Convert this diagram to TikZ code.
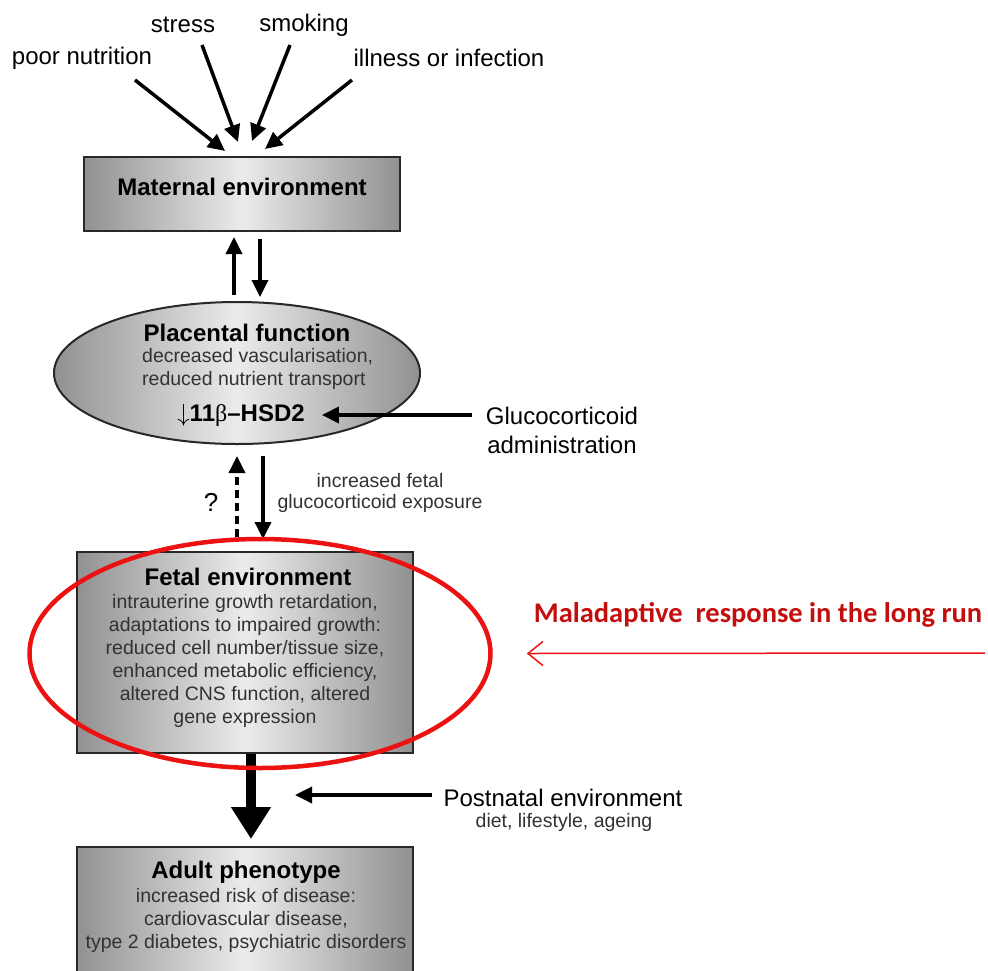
\documentclass[tikz,border=0pt]{standalone}
\usepackage{fontspec}
\setmainfont{Liberation Sans}
\newfontfamily\calfont{Carlito}
\newfontfamily\greekfont{Liberation Serif}
\usetikzlibrary{positioning,arrows.meta,shapes.geometric}
\definecolor{EdgeGray}{RGB}{40,40,40}
\definecolor{TextGray}{RGB}{50,50,50}
\definecolor{DarkFill}{RGB}{145,145,145}
\definecolor{LiteFill}{RGB}{235,235,235}
\definecolor{RingRed}{RGB}{236,18,18}
\definecolor{MalRed}{RGB}{196,14,14}

\begin{document}
\begin{tikzpicture}[x=1pt,y=-1pt,
box/.style={draw=EdgeGray, line width=2pt, left color=DarkFill, right color=DarkFill,
middle color=LiteFill, minimum width=336pt, inner sep=0pt},
head/.style={font=\fontsize{24}{28}\selectfont\bfseries, inner sep=1pt},
sub/.style={font=\fontsize{19.5}{23}\selectfont, text=TextGray, align=center, inner sep=1pt},
lab/.style={font=\fontsize{24}{29}\selectfont, align=center, inner sep=2pt},
line/.style={draw=black, line width=3.5pt, -{Triangle[length=17pt,width=16pt]}},
ring/.style={draw=RingRed, line width=4.5pt, ellipse, inner sep=0pt},
redline/.style={draw=RingRed, line width=1.5pt, -{Straight Barb[length=15pt,width=24pt]}}]
\clip (0,0) rectangle (988,970);
\node[lab] (pn) at (82,58) {poor nutrition};
\node[lab] (st) at (183,25) {stress};
\node[lab] (sm) at (304,25) {smoking};
\node[lab] (ill) at (449,58) {illness or infection};
\coordinate (pnT) at (135,80);
\coordinate (stT) at (202,45);
\coordinate (smT) at (290,45);
\coordinate (illT) at (352,80);
\node[box, minimum width=316pt, minimum height=74pt] (mat) at (242,194) {};
\node[head] (matT) at (242,187) {Maternal environment};
\draw[line] (pnT) -- ([xshift=-17pt,yshift=5pt]mat.north);
\draw[line] (stT) -- ([xshift=-4pt,yshift=14pt]mat.north);
\draw[line] (smT) -- ([xshift=10pt,yshift=15pt]mat.north);
\draw[line] (illT) -- ([xshift=23pt,yshift=7pt]mat.north);
\node[box, ellipse, minimum width=366pt, minimum height=142pt] (plac) at (237,373) {};
\node[head] (placT) at (247,333) {Placental function};
\node[sub, align=left, anchor=west] (placS) at (141,369) {decreased vascularisation,\\reduced nutrient transport};
\node[head] (hsd) at (241,415) {$\downarrow$11{\greekfont\mdseries β}--HSD2};
\node[lab] (gluco) at (562,430) {Glucocorticoid\\administration};
\draw[line, shorten <=12pt, shorten >=16pt] (gluco.west |- hsd) -- (hsd.east);
\draw[line, shorten <=6pt, shorten >=5pt] ([xshift=-8pt]mat.south |- plac.north) -- ([xshift=-8pt]mat.south);
\draw[line, shorten <=7pt, shorten >=4pt] ([xshift=18pt]mat.south) -- ([xshift=18pt]mat.south |- plac.north);
\node[box, minimum height=201pt] (fet) at (245,652.5) {};
\node[head] (fetT) at (248,577) {Fetal environment};
\node[sub] (fetS) at (245,661) {intrauterine growth retardation,\\adaptations to impaired growth:\\reduced cell number/tissue size,\\enhanced metabolic efficiency,\\altered CNS function, altered\\gene expression};
\draw[line, dashed, dash pattern=on 8pt off 5pt, shorten <=14pt, shorten >=11pt] ([xshift=-8pt]fet.north) -- ([xshift=-8pt]fet.north |- plac.south);
\draw[line, shorten <=11pt, shorten >=12pt] ([xshift=18pt]fet.north |- plac.south) -- ([xshift=18pt]fet.north);
\node[lab, font=\fontsize{26}{30}\selectfont] (qm) at (211,502) {?};
\node[sub, font=\fontsize{19.5}{21}\selectfont] (inc) at (380,493) {increased fetal\\glucocorticoid exposure};
\node[box, minimum height=143pt] (adult) at (245,918.5) {};
\node[head] (adT) at (246,872) {Adult phenotype};
\node[sub] (adS) at (246,920) {increased risk of disease:\\cardiovascular disease,\\type 2 diabetes, psychiatric disorders};
\draw[draw=black, line width=10pt, -{Triangle[length=32pt,width=38pt]}, shorten >=7pt] ([xshift=6pt]fet.south) -- ([xshift=6pt]adult.north);
\node[lab] (post) at (563,798) {Postnatal environment};
\node[sub] (diet) at (564,822) {diet, lifestyle, ageing};
\coordinate (postTip) at (295,795);
\draw[line, shorten <=9pt] (postTip -| post.west) -- (postTip);
\node[ring, minimum width=461pt, minimum height=229pt] (mal) at (260,653.5) {};
\node[font=\calfont\fontsize{28.5}{30}\selectfont\bfseries, text=MalRed, inner sep=1pt] (malT) at (758,615) {Maladaptive\ \ response in the long run};
\coordinate (malIn) at (985,653);
\draw[redline] (malIn) -- ([xshift=34pt]mal.east);
\end{tikzpicture}
\end{document}
